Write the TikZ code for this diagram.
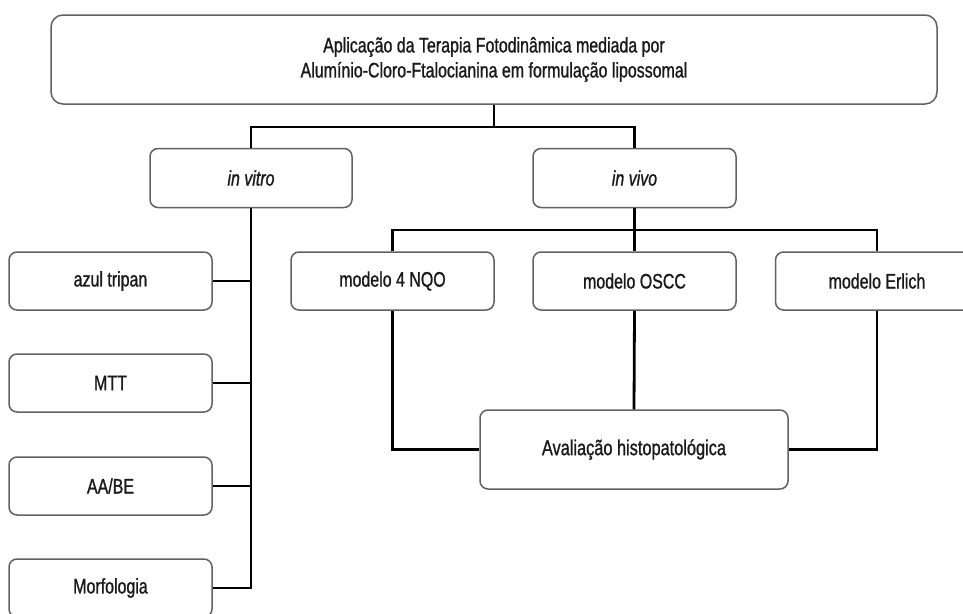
\documentclass[tikz,border=0pt]{standalone}
\usepackage{fontspec}
\setmainfont{Liberation Sans}[FakeStretch=0.76,FakeBold=1]
\begin{document}
\begin{tikzpicture}[x=1pt,y=-1pt,
  box/.style={draw=black!62,line width=1.5pt,rounded corners=8pt,fill=white,
    minimum width=203pt,minimum height=58pt,inner sep=0pt,font=\fontsize{21}{25}\selectfont,text=black!90},
  link/.style={line width=2.8pt,black}]
\useasboundingbox[fill=white] (0,0) rectangle (963,613);
% nodes
\node[box,rounded corners=12pt,minimum width=886pt,minimum height=89pt,align=center] (top) at (494,59.5)
  {Aplicação da Terapia Fotodinâmica mediada por\\Alumínio-Cloro-Ftalocianina em formulação lipossomal};
\node[box,minimum width=202pt,minimum height=59pt] (vitro) at (251,178) {\itshape in vitro};
\node[box,minimum height=59pt] (vivo) at (634.5,178) {\itshape in vivo};
\node[box] (azul) at (110.5,281) {azul tripan};
\node[box] (mtt) at (110.5,383) {MTT};
\node[box] (aabe) at (110.5,486) {AA/BE};
\node[box] (morf) at (110.5,588) {Morfologia};
\node[box] (nqo) at (392.5,281) {modelo 4 NQO};
\node[box] (oscc) at (634.5,281) {modelo OSCC};
\node[box] (erlich) at (877,281) {modelo Erlich};
\node[box,minimum width=308pt,minimum height=79pt,font=\fontsize{21.5}{25}\selectfont] (aval) at (634,449.5)
  {Avaliação histopatológica};
% bus points
\coordinate (busA) at (494,127);
\coordinate (busB) at (634.5,230);
% connectors
\draw[link] (top.south) -- (busA);
\draw[link] (vitro.north) |- (busA) -| (vivo.north);
\draw[link] (vitro.south) |- (morf.east);
\draw[link] (azul.east) -- (azul.east -| vitro.south);
\draw[link] (mtt.east) -- (mtt.east -| vitro.south);
\draw[link] (aabe.east) -- (aabe.east -| vitro.south);
\draw[link] (vivo.south) -- (oscc.north);
\draw[link] (nqo.north) |- (busB) -| (erlich.north);
\draw[link] (nqo.south) |- (aval.west);
\draw[link] (erlich.south) |- (aval.east);
\draw[link] (oscc.south) -- (aval.north);
\end{tikzpicture}
\end{document}
